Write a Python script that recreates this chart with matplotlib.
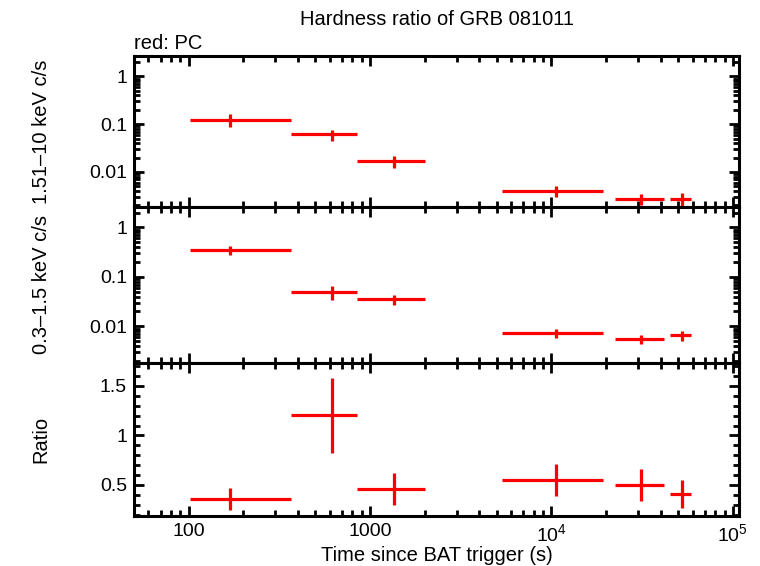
import numpy as np
import matplotlib
matplotlib.use('Agg')
import matplotlib.pyplot as plt
import matplotlib.ticker as ticker

plt.rcParams['font.family'] = ['Liberation Sans', 'DejaVu Sans']
plt.rcParams['mathtext.fontset'] = 'custom'
plt.rcParams['mathtext.rm'] = 'Liberation Sans'
plt.rcParams['mathtext.it'] = 'Liberation Sans'

# time bins (s)
t_lo = np.array([102, 368, 851, 5330, 22450, 45200])
t_hi = np.array([368, 851, 2021, 19230, 41700, 58900])
t_mid = np.array([169, 614, 1355, 10640, 31200, 52270])

# 1.51-10 keV count rate
hard = np.array([0.125, 0.061, 0.0169, 0.00403, 0.00275, 0.00275])
hard_err = np.array([0.036, 0.016, 0.005, 0.0011, 0.00075, 0.0008])

# 0.3-1.5 keV count rate
soft = np.array([0.343, 0.049, 0.0355, 0.00722, 0.00546, 0.0066])
soft_err = np.array([0.07, 0.015, 0.008, 0.0015, 0.0011, 0.0016])

# ratio
ratio = np.array([0.36, 1.204, 0.459, 0.551, 0.50, 0.408])
ratio_err = np.array([0.112, 0.38, 0.157, 0.163, 0.16, 0.146])

xticks = [100, 1000, 1e4, 1e5]
xtick_labels = ['100', '1000', '$10^{4}$', '$10^{5}$']
log_yticks = [0.01, 0.1, 1]
log_ytick_labels = ['0.01', '0.1', '1']
ratio_yticks = [0.5, 1, 1.5]
ratio_ytick_labels = ['0.5', '1', '1.5']

fig = plt.figure(figsize=(7.6, 5.66), dpi=100)
L, W = 134 / 760, 605 / 760
ax1 = fig.add_axes([L, 1 - 207 / 566, W, 150.5 / 566])
ax2 = fig.add_axes([L, 1 - 362.5 / 566, W, 155.5 / 566])
ax3 = fig.add_axes([L, 1 - 516 / 566, W, 153.5 / 566])

xerr = [t_mid - t_lo, t_hi - t_mid]
for ax, y, e in [(ax1, hard, hard_err), (ax2, soft, soft_err), (ax3, ratio, ratio_err)]:
    ax.errorbar(t_mid, y, xerr=xerr, yerr=e, fmt='none', ecolor='red',
                elinewidth=2.3, capsize=0)
    ax.set_xscale('log')
    ax.set_xlim(50, 1.08e5)
    ax.xaxis.set_major_locator(ticker.FixedLocator(xticks))
    ax.xaxis.set_minor_locator(ticker.LogLocator(base=10, subs=np.arange(2, 10)))
    ax.xaxis.set_minor_formatter(ticker.NullFormatter())
    ax.tick_params(which='both', direction='in', top=True, right=True,
                   width=2, labelsize=14, pad=5)
    ax.tick_params(which='major', length=7)
    ax.tick_params(which='minor', length=4)
    for s in ax.spines.values():
        s.set_linewidth(2.2)

for ax in (ax1, ax2):
    ax.set_yscale('log')
    ax.set_ylim(0.00185, 2.6)
    ax.yaxis.set_major_locator(ticker.FixedLocator(log_yticks))
    ax.yaxis.set_major_formatter(ticker.FixedFormatter(log_ytick_labels))
    ax.yaxis.set_minor_locator(ticker.LogLocator(base=10, subs=np.arange(2, 10)))
    ax.yaxis.set_minor_formatter(ticker.NullFormatter())
    ax.set_xticklabels([])

ax3.set_ylim(0.186, 1.737)
ax3.yaxis.set_major_locator(ticker.FixedLocator(ratio_yticks))
ax3.yaxis.set_major_formatter(ticker.FixedFormatter(ratio_ytick_labels))
ax3.yaxis.set_minor_locator(ticker.MultipleLocator(0.1))
ax3.set_xticklabels(xtick_labels)
ax3.set_xlabel('Time since BAT trigger (s)', fontsize=14.5, labelpad=1)

ax1.set_ylabel('1.51\u201310 keV c/s', fontsize=14.5)
ax2.set_ylabel('0.3\u20131.5 keV c/s', fontsize=14.5)
ax3.set_ylabel('Ratio', fontsize=14.5)
for ax in (ax1, ax2, ax3):
    ax.yaxis.set_label_coords(-0.138, 0.5)

ax1.set_title('Hardness ratio of GRB 081011', fontsize=14.5, pad=23)
ax1.text(0.0, 1.025, 'red: PC', transform=ax1.transAxes, fontsize=14.5,
         ha='left', va='bottom')

fig.savefig('out.png', dpi=100)
